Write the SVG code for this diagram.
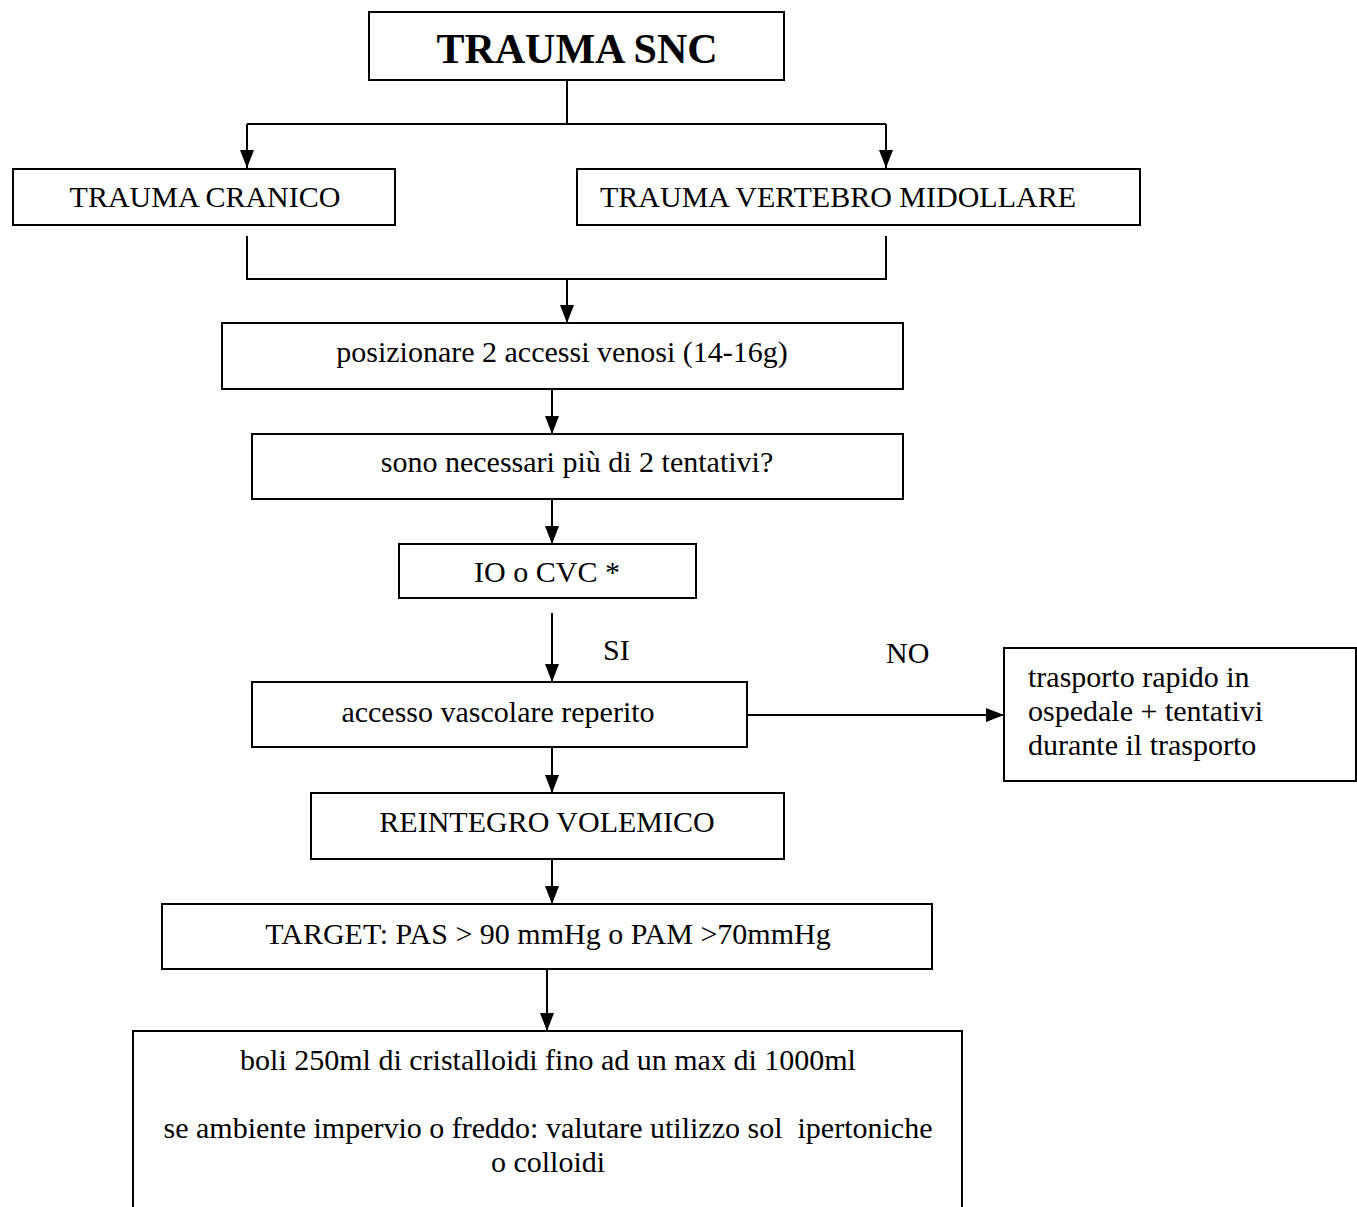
<svg xmlns="http://www.w3.org/2000/svg" width="1357" height="1207" viewBox="0 0 1357 1207">
<style>
.box{fill:#fff;stroke:#000;stroke-width:2}
.t{font-family:"Liberation Serif","Times New Roman",serif;font-size:30px;fill:#000}
.c{text-anchor:middle}
.b{font-weight:bold;font-size:42px}
.ln{fill:none;stroke:#000;stroke-width:2}
</style>
<defs>
<marker id="ah" markerUnits="userSpaceOnUse" markerWidth="18" markerHeight="14" refX="18" refY="7" orient="auto">
<path d="M0,0 L18,7 L0,14 z" fill="#000"/>
</marker>
</defs>
<rect width="1357" height="1207" fill="#fff"/>
<g id="connectors">
<path class="ln" d="M567,80 V124"/>
<path class="ln" d="M247,124 H886"/>
<path class="ln" d="M247,124 V168" marker-end="url(#ah)"/>
<path class="ln" d="M886,124 V168" marker-end="url(#ah)"/>
<path class="ln" d="M247,236 V279 H886 V236"/>
<path class="ln" d="M567,279 V323" marker-end="url(#ah)"/>
<path class="ln" d="M552,389 V434" marker-end="url(#ah)"/>
<path class="ln" d="M552,499 V544" marker-end="url(#ah)"/>
<path class="ln" d="M552,613 V682" marker-end="url(#ah)"/>
<path class="ln" d="M747,715 H1004" marker-end="url(#ah)"/>
<path class="ln" d="M552,747 V793" marker-end="url(#ah)"/>
<path class="ln" d="M552,859 V904" marker-end="url(#ah)"/>
<path class="ln" d="M547,969 V1031" marker-end="url(#ah)"/>
<text class="t" x="603" y="660">SI</text>
<text class="t" x="886" y="663">NO</text>
</g>
<g id="n-trauma-snc">
<rect class="box" x="369" y="12" width="415" height="68"/>
<text class="t c b" x="577" y="63">TRAUMA SNC</text>
</g>
<g id="n-cranico">
<rect class="box" x="13" y="169" width="382" height="56"/>
<text class="t c" x="205" y="207">TRAUMA CRANICO</text>
</g>
<g id="n-vertebro">
<rect class="box" x="577" y="169" width="563" height="56"/>
<text class="t" x="600" y="207">TRAUMA VERTEBRO MIDOLLARE</text>
</g>
<g id="n-posizionare">
<rect class="box" x="222" y="323" width="681" height="66"/>
<text class="t c" x="562" y="362">posizionare 2 accessi venosi (14-16g)</text>
</g>
<g id="n-tentativi">
<rect class="box" x="252" y="434" width="651" height="65"/>
<text class="t c" x="577" y="472">sono necessari più di 2 tentativi?</text>
</g>
<g id="n-io-cvc">
<rect class="box" x="399" y="544" width="297" height="54"/>
<text class="t c" x="547" y="582">IO o CVC *</text>
</g>
<g id="n-accesso">
<rect class="box" x="252" y="682" width="495" height="65"/>
<text class="t c" x="498" y="722">accesso vascolare reperito</text>
</g>
<g id="n-trasporto">
<rect class="box" x="1004" y="648" width="352" height="133"/>
<text class="t" x="1028" y="687">trasporto rapido in</text>
<text class="t" x="1028" y="721">ospedale + tentativi</text>
<text class="t" x="1028" y="755">durante il trasporto</text>
</g>
<g id="n-reintegro">
<rect class="box" x="311" y="793" width="473" height="66"/>
<text class="t c" x="547" y="832">REINTEGRO VOLEMICO</text>
</g>
<g id="n-target">
<rect class="box" x="162" y="904" width="770" height="65"/>
<text class="t c" x="548" y="944">TARGET: PAS &gt; 90 mmHg o PAM &gt;70mmHg</text>
</g>
<g id="n-boli">
<rect class="box" x="133" y="1031" width="829" height="200"/>
<text class="t c" x="548" y="1070">boli 250ml di cristalloidi fino ad un max di 1000ml</text>
<text class="t c" x="548" y="1138" xml:space="preserve">se ambiente impervio o freddo: valutare utilizzo sol  ipertoniche</text>
<text class="t c" x="548" y="1172">o colloidi</text>
</g>
</svg>
